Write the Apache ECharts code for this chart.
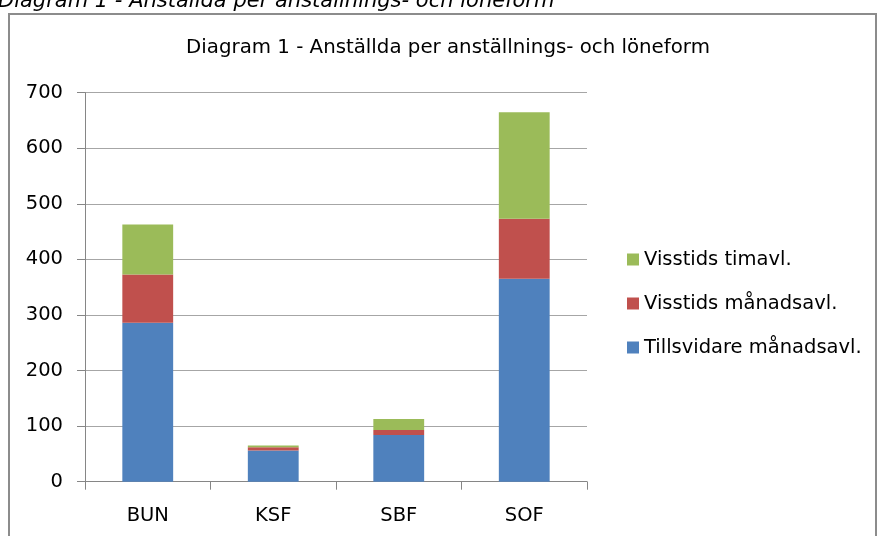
<!DOCTYPE html>
<html>
<head>
<meta charset="utf-8">
<script src="https://cdn.jsdelivr.net/npm/echarts@6/dist/echarts.min.js"></script>
<style>
  html, body { margin: 0; padding: 0; background: #ffffff; }
  #chart { width: 878px; height: 536px; }
</style>
</head>
<body>
<div id="chart"></div>
<script>
// Anställda per anställnings- och löneform
const categories = ['BUN', 'KSF', 'SBF', 'SOF'];
const tillsvidareManad = [286, 56, 84, 365];
const visstidsManad = [87, 6, 9, 108];
const visstidsTim = [90, 3, 20, 192];
const seriesNames = ['Tillsvidare månadsavl.', 'Visstids månadsavl.', 'Visstids timavl.'];
const seriesColors = ['#4f81bd', '#c0504d', '#9bbb59'];
const yTicks = [0, 100, 200, 300, 400, 500, 600, 700];

const FONT = '"DejaVu Sans", sans-serif';
const chart = echarts.init(document.getElementById('chart'), null, { renderer: 'canvas' });

const values = [tillsvidareManad, visstidsManad, visstidsTim];

chart.setOption({
  animation: false,
  backgroundColor: '#ffffff',
  textStyle: { fontFamily: FONT },
  title: {
    text: 'Diagram 1 - Anställda per anställnings- och löneform',
    left: 443,
    textAlign: 'center',
    top: 33,
    textStyle: { fontFamily: FONT, fontSize: 19.8, fontWeight: 'normal', color: '#000000' }
  },
  graphic: [
    {
      type: 'text',
      left: -2,
      top: -9,
      style: {
        text: 'Diagram 1 - Anställda per anställnings- och löneform',
        font: 'italic 21px ' + FONT,
        fill: '#000000'
      }
    },
    {
      type: 'rect',
      shape: { x: 9, y: 14, width: 867, height: 540 },
      style: { fill: 'none', stroke: '#8c8c8c', lineWidth: 2 },
      silent: true
    }
  ],
  legend: {
    orient: 'vertical',
    left: 627,
    top: 249,
    padding: 0,
    itemWidth: 12,
    itemHeight: 12,
    itemGap: 23,
    itemStyle: { borderWidth: 0 },
    icon: 'rect',
    data: [seriesNames[2], seriesNames[1], seriesNames[0]],
    textStyle: { fontFamily: FONT, fontSize: 19.5, color: '#000000', lineHeight: 21, padding: [0, 0, 0, 0] }
  },
  grid: { left: 85, right: 291, top: 92.7, bottom: 54.3, containLabel: false },
  xAxis: {
    type: 'category',
    data: categories,
    axisLine: { lineStyle: { color: '#868686', width: 1 } },
    axisTick: { show: true, alignWithLabel: false, length: 8, lineStyle: { color: '#868686' } },
    axisLabel: { fontFamily: FONT, fontSize: 19.5, color: '#000000', margin: 24 }
  },
  yAxis: {
    type: 'value',
    min: yTicks[0],
    max: yTicks[yTicks.length - 1],
    interval: 100,
    axisLine: { show: true, lineStyle: { color: '#868686', width: 1 } },
    axisTick: { show: true, length: 8, lineStyle: { color: '#868686' } },
    splitLine: { lineStyle: { color: '#a6a6a6', width: 1 } },
    axisLabel: { fontFamily: FONT, fontSize: 19.5, color: '#000000', margin: 22 }
  },
  series: values.map((vals, i) => ({
    name: seriesNames[i],
    type: 'bar',
    stack: 'total',
    data: vals,
    barWidth: '40.5%',
    itemStyle: { color: seriesColors[i] }
  }))
});
</script>
</body>
</html>
